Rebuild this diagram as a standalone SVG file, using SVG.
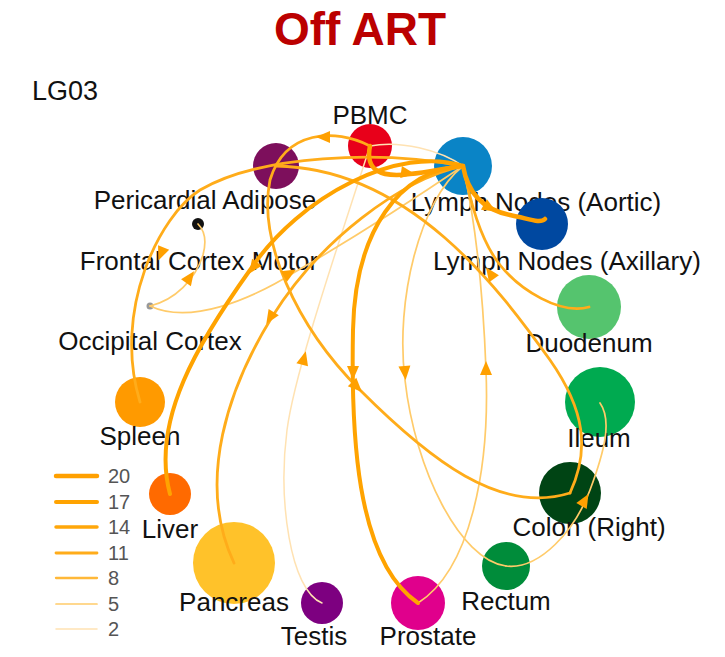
<svg xmlns="http://www.w3.org/2000/svg" xmlns:xlink="http://www.w3.org/1999/xlink" width="725" height="657" viewBox="0 0 725 657">
<style>
.lbl{font-family:"Liberation Sans",Arial,sans-serif;font-size:26px;fill:#111;text-anchor:middle}
.e{fill:none;stroke-linecap:round}
.w20{stroke:#FFA000;stroke-width:4.5}
.w17{stroke:#FFA300;stroke-width:4}
.w14{stroke:#FFA70A;stroke-width:3.5}
.w11{stroke:#FFAC1A;stroke-width:2.8}
.w8{stroke:#FFB838;stroke-width:2.3}
.w5{stroke:#FFCB6A;stroke-width:1.7}
.w2{stroke:#FFE2B2;stroke-width:1.5}
.leg{font-family:"Liberation Sans",Arial,sans-serif;font-size:20px;fill:#555}
.arr{fill:#FFA000}
</style>
<defs>
<path id="ah" d="M7,0 L-7,-6 L-7,6 Z"/>
</defs>
<rect width="725" height="657" fill="#fff"/>
<text x="360" y="45" font-family="'Liberation Sans',Arial,sans-serif" font-size="46" font-weight="bold" fill="#BB0000" text-anchor="middle">Off ART</text>
<text x="32" y="100" font-family="'Liberation Sans',Arial,sans-serif" font-size="27" fill="#111">LG03</text>

<g id="nodes">
<g id="n-pbmc"><circle cx="370" cy="146" r="22" fill="#E8001A"/><text class="lbl" x="370" y="124">PBMC</text></g>
<g id="n-pericardial"><circle cx="276" cy="166" r="23" fill="#7D0F5C"/><text class="lbl" x="205" y="209">Pericardial Adipose</text></g>
<g id="n-lna"><circle cx="463" cy="166" r="29" fill="#0A84C6"/><text class="lbl" x="536" y="211">Lymph Nodes (Aortic)</text></g>
<g id="n-lnx"><circle cx="542" cy="224" r="26" fill="#0048A0"/><text class="lbl" x="567" y="270">Lymph Nodes (Axillary)</text></g>
<g id="n-frontal"><circle cx="198" cy="224" r="6" fill="#111"/><text class="lbl" x="199" y="270">Frontal Cortex Motor</text></g>
<g id="n-occipital"><circle cx="150" cy="306" r="3.5" fill="#999"/><text class="lbl" x="150" y="350">Occipital Cortex</text></g>
<g id="n-duodenum"><circle cx="589" cy="307" r="32" fill="#55C46E"/><text class="lbl" x="589" y="352">Duodenum</text></g>
<g id="n-spleen"><circle cx="140" cy="402" r="25" fill="#FF9A00"/><text class="lbl" x="140" y="445">Spleen</text></g>
<g id="n-ileum"><circle cx="600" cy="402" r="35" fill="#00AA50"/><text class="lbl" x="599" y="447">Ileum</text></g>
<g id="n-liver"><circle cx="170" cy="494" r="21" fill="#FF6A00"/><text class="lbl" x="170" y="538">Liver</text></g>
<g id="n-colon"><circle cx="570" cy="493" r="31" fill="#004414"/><text class="lbl" x="589" y="536">Colon (Right)</text></g>
<g id="n-pancreas"><circle cx="234" cy="563" r="41" fill="#FFC22A"/><text class="lbl" x="234" y="611">Pancreas</text></g>
<g id="n-rectum"><circle cx="506" cy="566" r="24" fill="#008C3A"/><text class="lbl" x="506" y="610">Rectum</text></g>
<g id="n-testis"><circle cx="322" cy="603" r="21" fill="#7D0080"/><text class="lbl" x="314" y="645">Testis</text></g>
<g id="n-prostate"><circle cx="418" cy="603" r="27" fill="#E0008C"/><text class="lbl" x="428" y="645">Prostate</text></g>
</g>

<g id="edges">
<path class="e w2" d="M370,146 C400,140 440,150 463,166"/>
<path class="e w2" d="M322,603 C290,590 278,500 287,430 C295,370 340,240 370,146"/>
<path class="e w5" d="M150,306 C190,325 250,300 295,272 C350,240 420,195 463,166"/>
<path class="e w5" d="M150,306 C175,300 195,280 203,255 C207,240 204,230 198,224"/>
<path class="e w5" d="M463,166 C420,200 395,300 405,380 C415,470 460,560 506,566"/>
<path class="e w5" d="M506,566 C540,570 575,530 590,490 C605,450 612,420 600,403"/>
<path class="e w5" d="M418,603 C470,570 490,470 486,370 C483,290 475,220 463,166"/>
<path class="e w11" d="M463,166 C380,150 260,155 200,190 C160,215 112,310 140,402"/>
<path class="e w11" d="M463,166 C400,180 320,240 272,317 C230,385 195,480 234,563"/>
<path class="e w11" d="M370,146 C335,128 285,130 270,180 C258,240 295,325 360,390 C430,460 500,515 570,493"/>
<path class="e w11" d="M570,493 C590,450 585,410 550,360 C500,290 410,168 276,166"/>
<path class="e w11" d="M589,307 C560,315 520,290 500,265 C480,240 470,200 463,166"/>
<path class="e w17" d="M463,166 C400,145 300,195 250,270 C200,340 150,420 170,494"/>
<path class="e w17" d="M463,166 C400,170 355,230 353,330 C351,430 355,560 418,603"/>
<path class="e w20" d="M370,146 C365,170 380,178 410,174 C430,172 445,168 463,166"/>
<path class="e w20" d="M463,166 C468,195 485,210 510,215 C530,219 540,224 545,219"/>
<g id="arrows">
<use xlink:href="#ah" class="arr" transform="translate(323,137) rotate(180)"/>
<use xlink:href="#ah" class="arr" transform="translate(161,254) rotate(112)"/>
<use xlink:href="#ah" class="arr" transform="translate(253,268) rotate(125)"/>
<use xlink:href="#ah" class="arr" transform="translate(270,318) rotate(122)"/>
<use xlink:href="#ah" class="arr" transform="translate(190,277) rotate(-55)"/>
<use xlink:href="#ah" class="arr" transform="translate(290,273) rotate(-30)"/>
<use xlink:href="#ah" class="arr" transform="translate(408,173) rotate(8)"/>
<use xlink:href="#ah" class="arr" transform="translate(490,208) rotate(30)"/>
<use xlink:href="#ah" class="arr" transform="translate(490,273) rotate(-125)"/>
<use xlink:href="#ah" class="arr" transform="translate(353,373) rotate(90)"/>
<use xlink:href="#ah" class="arr" transform="translate(357,387) rotate(45)"/>
<use xlink:href="#ah" class="arr" transform="translate(405,373) rotate(85)"/>
<use xlink:href="#ah" class="arr" transform="translate(486,368) rotate(-90)"/>
<use xlink:href="#ah" class="arr" transform="translate(585,500) rotate(-60)"/>
<use xlink:href="#ah" class="arr" transform="translate(304,358) rotate(-75)"/>
</g>
</g>

<g id="legend">
<line class="e w20" x1="56" y1="476" x2="97" y2="476"/><text class="leg" x="108" y="483">20</text>
<line class="e w17" x1="56" y1="502" x2="97" y2="502"/><text class="leg" x="108" y="509">17</text>
<line class="e w14" x1="56" y1="527" x2="97" y2="527"/><text class="leg" x="108" y="534">14</text>
<line class="e w11" x1="56" y1="553" x2="97" y2="553"/><text class="leg" x="108" y="560">11</text>
<line class="e w8" x1="56" y1="578" x2="97" y2="578"/><text class="leg" x="108" y="585">8</text>
<line class="e w5" x1="56" y1="604" x2="97" y2="604"/><text class="leg" x="108" y="611">5</text>
<line class="e w2" x1="56" y1="629" x2="97" y2="629"/><text class="leg" x="108" y="636">2</text>
</g>
</svg>
